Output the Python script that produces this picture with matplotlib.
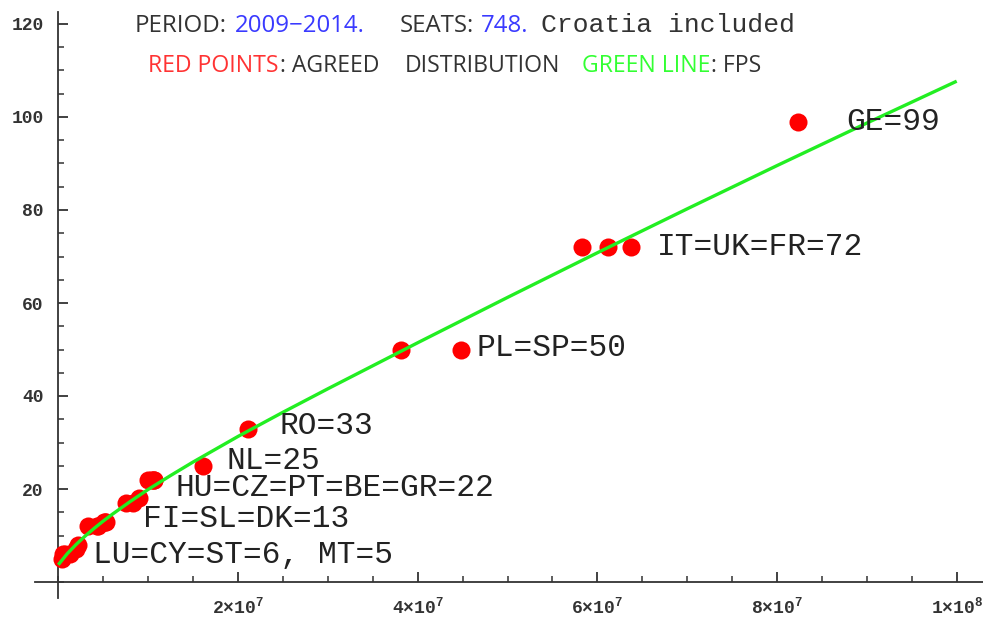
import matplotlib
matplotlib.use('Agg')
import matplotlib.pyplot as plt
from matplotlib.ticker import MultipleLocator

# ---------------- data ----------------
countries = ['GE', 'FR', 'UK', 'IT', 'SP', 'PL', 'RO', 'NL',
             'GR', 'BE', 'PT', 'CZ', 'HU', 'SE', 'AT', 'BG',
             'DK', 'SL', 'FI', 'IE', 'HR', 'LT', 'LV', 'SI',
             'EE', 'CY', 'LU', 'MT']
population_m = [82.3, 63.7, 61.2, 58.3, 44.8, 38.1, 21.1, 16.1,
                10.7, 10.6, 10.5, 10.3, 10.0, 9.0, 8.3, 7.5,
                5.3, 5.2, 5.1, 4.4, 4.3, 3.3, 2.2, 2.0,
                1.3, 0.8, 0.5, 0.4]
seats = [99, 72, 72, 72, 50, 50, 33, 25,
         22, 22, 22, 22, 22, 18, 17, 17,
         13, 13, 13, 12, 12, 12, 8, 7,
         6, 6, 6, 5]

fps_pop_m = [0, 1, 2, 3, 4, 5, 6, 8, 10, 12.5, 15, 20, 25, 30,
             40, 50, 60, 70, 80, 90, 100]
fps_seats = [3.7, 6.1, 8.1, 9.9, 11.55, 13.1, 14.55, 17.3, 19.9, 22.9, 25.8,
             31.3, 36.5, 41.55, 51.45, 61.2, 70.8, 80.25, 89.55, 98.7, 107.7]

xtick_values = [2e7, 4e7, 6e7, 8e7, 1e8]
xtick_labels = [r'$\mathregular{2{\times}10^{7}}$', r'$\mathregular{4{\times}10^{7}}$',
                r'$\mathregular{6{\times}10^{7}}$', r'$\mathregular{8{\times}10^{7}}$',
                r'$\mathregular{1{\times}10^{8}}$']
ytick_values = [20, 40, 60, 80, 100, 120]

group_labels = ['GE=99', 'IT=UK=FR=72', 'PL=SP=50', 'RO=33', 'NL=25',
                'HU=CZ=PT=BE=GR=22', 'FI=SL=DK=13', 'LU=CY=ST=6, MT=5']

# ---------------- figure ----------------
W, H = 983, 620
fig = plt.figure(figsize=(W / 100, H / 100), dpi=100)
fig.patch.set_facecolor('white')

left_px, right_px, top_px, bottom_px = 35, 983, 12, 598
ax = fig.add_axes([left_px / W, 1 - bottom_px / H,
                   (right_px - left_px) / W, (bottom_px - top_px) / H])
ax.set_facecolor('none')

x0_px, xscale = 58.3, 89.84e-7   # px per unit
y0_px, yscale = 582.0, 4.65
ax.set_xlim((left_px - x0_px) / xscale, (right_px - x0_px) / xscale)
ax.set_ylim((y0_px - bottom_px) / yscale, (y0_px - top_px) / yscale)

pop = [p * 1e6 for p in population_m]
fx = [p * 1e6 for p in fps_pop_m]

ax.plot(pop, seats, 'o', color='#ff0000', markersize=13, markeredgewidth=0, zorder=3)
ax.plot(fx, fps_seats, '-', color='#22ee22', linewidth=2.4, zorder=4,
        solid_capstyle='butt', solid_joinstyle='round')

axis_col = '#333333'
for s in ['top', 'right']:
    ax.spines[s].set_visible(False)
ax.spines['left'].set_position(('data', 0))
ax.spines['bottom'].set_position(('data', 0))
for s in ['left', 'bottom']:
    ax.spines[s].set_color(axis_col)
    ax.spines[s].set_linewidth(1.3)

ax.set_xticks(xtick_values)
ax.set_xticklabels(xtick_labels)
ax.set_yticks(ytick_values)
ax.set_yticklabels([str(v) for v in ytick_values])
ax.xaxis.set_minor_locator(MultipleLocator(5e6))
ax.yaxis.set_minor_locator(MultipleLocator(5))
ax.tick_params(which='major', direction='in', length=7, width=1.3, color=axis_col)
ax.tick_params(which='minor', direction='in', length=4.5, width=1.1, color=axis_col)
ax.tick_params(axis='y', which='major', pad=10.5)
ax.tick_params(axis='x', which='major', pad=11)
for lab in ax.get_xticklabels() + ax.get_yticklabels():
    lab.set_fontfamily('Liberation Mono')
    lab.set_fontsize(13)
    lab.set_color('#333333')
    lab.set_fontweight('bold')

# group labels (position in data coords)
label_pos = [(8.776e7, 97.2), (6.66e7, 70.3), (4.657e7, 48.5), (2.467e7, 31.8),
             (1.874e7, 24.3), (1.299e7, 18.4), (0.946e7, 11.9), (0.39e7, 4.0)]
for txt, (lx, ly) in zip(group_labels, label_pos):
    ax.text(lx, ly, txt, fontfamily='Liberation Mono', fontsize=22.5,
            color='#222222', ha='left', va='baseline', zorder=5)

# title segments: (text, x px or None to follow previous, colour, family, size)
sans = 'Open Sans'
mono = 'Liberation Mono'
black = '#333333'
blue = '#3a3aff'
red = '#ff3333'
green = '#33ff33'
fs1 = 17.3
fs2 = 16.6
line1 = [
    ('PERIOD:', 135, black, sans, fs1),
    ('2009\u22122014.', 235, blue, sans, fs1),
    ('SEATS:', 400, black, sans, fs1),
    ('748.', 481, blue, sans, fs1),
    ('Croatia included', 541, black, mono, 19),
]
line2 = [
    ('RED POINTS', 148, red, sans, fs2),
    (': AGREED', None, black, sans, fs2),
    ('DISTRIBUTION', 405, black, sans, fs2),
    ('GREEN LINE', 582, green, sans, fs2),
    (': FPS', None, black, sans, fs2),
]
renderer = fig.canvas.get_renderer()
for segs, base_y in [(line1, 31.7), (line2, 72)]:
    cur = None
    for txt, px, col, fam, size in segs:
        x = px if px is not None else cur
        t = fig.text(x / W, 1 - base_y / H, txt, color=col, fontfamily=fam,
                     fontsize=size, ha='left', va='baseline')
        bb = t.get_window_extent(renderer=renderer)
        cur = bb.x1 + 1

fig.savefig('out.png', dpi=100)
